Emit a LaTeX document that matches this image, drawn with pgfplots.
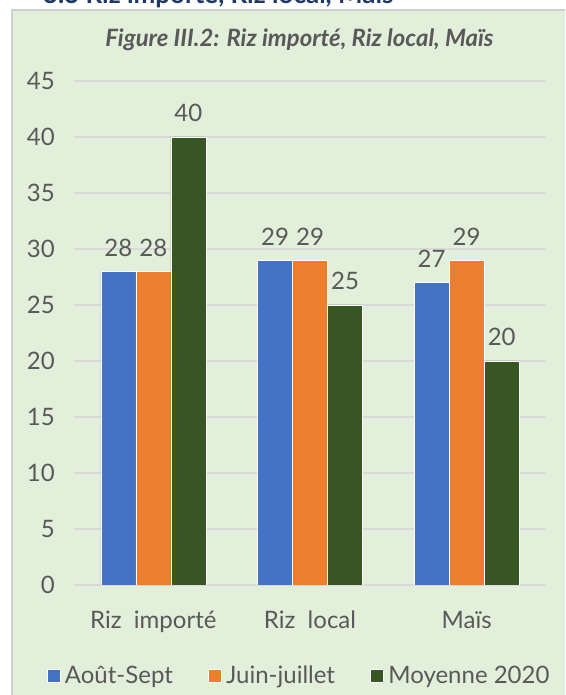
\documentclass[border=0pt]{standalone}
\usepackage{fontspec}
\setmainfont{Lato}
\usepackage{pgfplots}
\pgfplotsset{compat=1.18}
\definecolor{bgc}{HTML}{E2EFDA}
\definecolor{brd}{HTML}{D0D0D0}
\definecolor{gridc}{HTML}{D9D9D9}
\definecolor{txt}{HTML}{595959}
\definecolor{cblue}{HTML}{4472C4}
\definecolor{corange}{HTML}{ED7D31}
\definecolor{cgreen}{HTML}{375623}
\definecolor{navy}{HTML}{1F3864}
\begin{document}
\begin{tikzpicture}
\useasboundingbox (0,0) rectangle (423.75pt,521.25pt);
\clip (0,0) rectangle (423.75pt,521.25pt);
\fill[bgc] (9pt,0pt) rectangle (430pt,513.75pt);
\draw[brd,line width=1.5pt] (9pt,-5pt) -- (9pt,513.75pt) -- (430pt,513.75pt);
\node[anchor=base west,inner sep=0pt,text=navy,font=\fontsize{19.5}{21}\selectfont\bfseries] at (32pt,518.6pt) {3.3 Riz importé, Riz local, Maïs};
\node[anchor=base,inner sep=0pt,text=txt,font=\fontsize{17.9}{20}\selectfont\bfseries\itshape] at (224.6pt,486.2pt) {Figure III.2: Riz importé, Riz local, Maïs};
\begin{axis}[
  at={(56.25pt,82.5pt)}, anchor=south west,
  scale only axis, width=352.5pt, height=378pt,
  xmin=-0.5, xmax=2.5, ymin=0, ymax=45,
  ybar=0pt, bar width=26.25pt,
  xtick={0,1,2},
  xticklabels={Riz\ \ importé, Riz\ \ local, Maïs},
  ytick={0,5,...,45},
  /pgf/number format/assume math mode=true,
  ymajorgrids, grid style={gridc,line width=1.5pt},
  axis line style={draw=none},
  major tick style={draw=none},
  tick label style={font=\fontsize{18}{20}\selectfont, text=txt},
  yticklabel style={inner sep=0pt, xshift=-15pt},
  xticklabel style={inner sep=0pt, anchor=base, yshift=-28.5pt},
  nodes near coords,
  every node near coord/.append style={font=\fontsize{18}{20}\selectfont, text=txt, inner sep=0pt, anchor=south, yshift=11pt},
  legend columns=3,
  legend style={at={(0.4745,-0.1796)}, anchor=center, draw=none, fill=none,
    font=\fontsize{18}{20}\selectfont, text=txt, inner sep=0pt,
    nodes={inner sep=0pt},
    /tikz/every odd column/.append style={column sep=3.75pt},
    /tikz/every even column/.append style={column sep=26.25pt}},
  legend image code/.code={\fill[#1] (0pt,-4.875pt) rectangle (9.75pt,4.875pt);},
]
\addplot[fill=cblue, draw=white, line width=0.3pt] coordinates {(0,28) (1,29) (2,27)};
\addplot[fill=corange, draw=white, line width=0.3pt] coordinates {(0,28) (1,29) (2,29)};
\addplot[fill=cgreen, draw=white, line width=0.3pt] coordinates {(0,40) (1,25) (2,20)};
\legend{Août-Sept, Juin-juillet, Moyenne 2020}
\end{axis}
\end{tikzpicture}
\end{document}
